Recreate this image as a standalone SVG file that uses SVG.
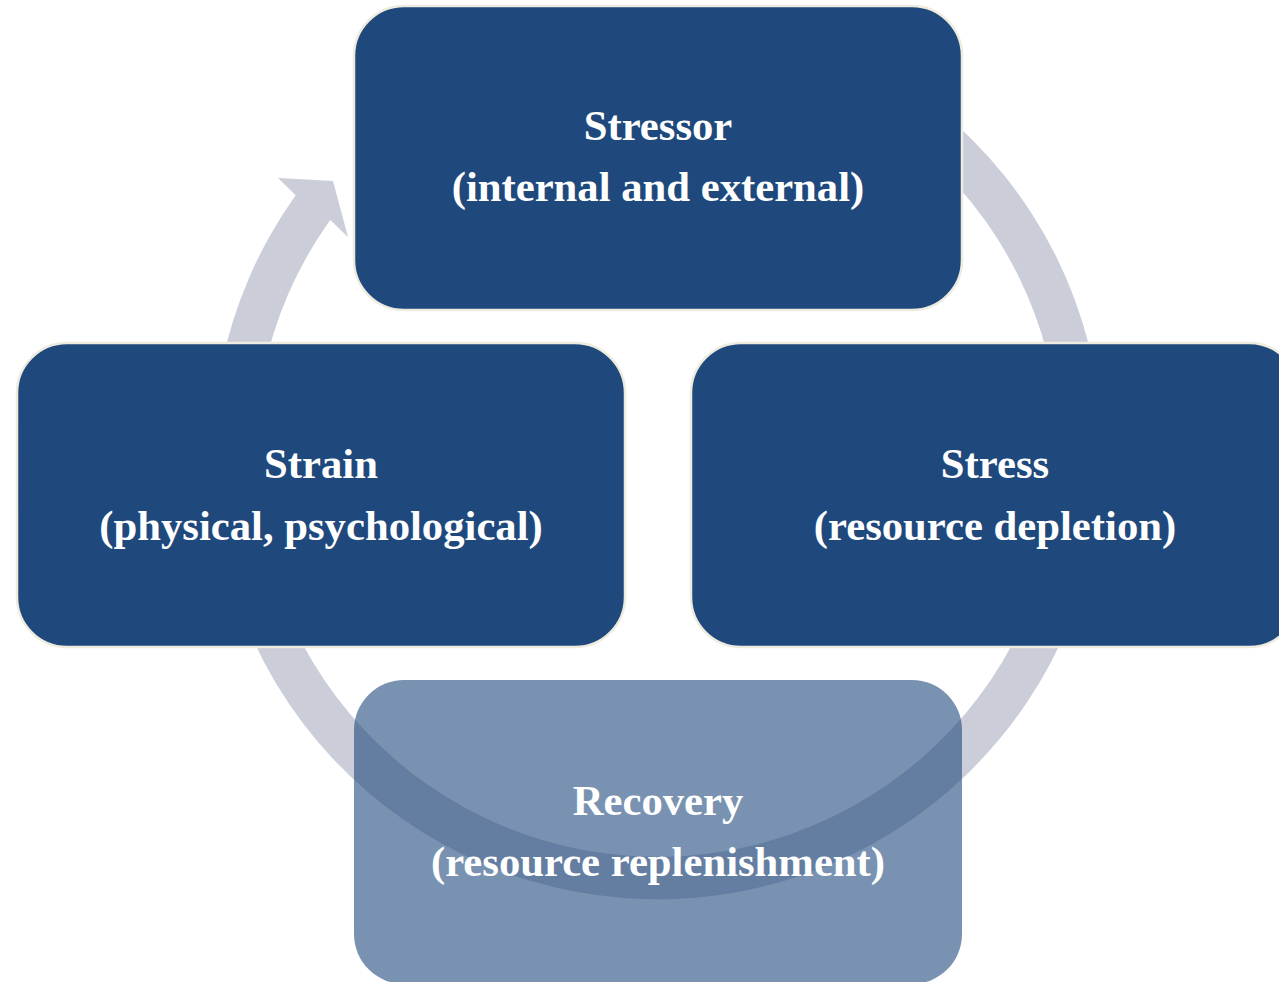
<svg xmlns="http://www.w3.org/2000/svg" width="1279" height="982" viewBox="0 0 1279 982">
<style>
.box{fill:#1F497D;stroke:#EEEBDF;stroke-width:2.5}
.soft{fill:#1F497D;fill-opacity:0.6}
.t{font-family:"Liberation Serif","Times New Roman",serif;font-weight:bold;font-size:42.7px;fill:#FFFFFF;text-anchor:middle}
.ring{fill:#CBCED9}
</style>
<rect width="1279" height="982" fill="#FFFFFF"/>
<g id="connectors">
<path class="ring" d="M772.7,24.5 A445,445 0 1 1 295.7,195.3 L278,178 L333,181 L348,237 L330.2,220 A402.5,402.5 0 1 0 761.7,65.5 Z"/>
</g>
<g id="node-stressor">
<rect class="box" x="354" y="6" width="608" height="304" rx="50" ry="50"/>
<text class="t" x="658" y="140">Stressor</text>
<text class="t" x="658" y="201">(internal and external)</text>
</g>
<g id="node-stress">
<rect class="box" x="691" y="343" width="608" height="304" rx="50" ry="50"/>
<text class="t" x="995" y="478">Stress</text>
<text class="t" x="995" y="540">(resource depletion)</text>
</g>
<g id="node-strain">
<rect class="box" x="17" y="343" width="608" height="304" rx="50" ry="50"/>
<text class="t" x="321" y="478">Strain</text>
<text class="t" x="321" y="540">(physical, psychological)</text>
</g>
<g id="node-recovery">
<rect class="soft" x="354" y="680" width="608" height="304" rx="50" ry="50"/>
<text class="t" x="658" y="815">Recovery</text>
<text class="t" x="658" y="876">(resource replenishment)</text>
</g>
</svg>
